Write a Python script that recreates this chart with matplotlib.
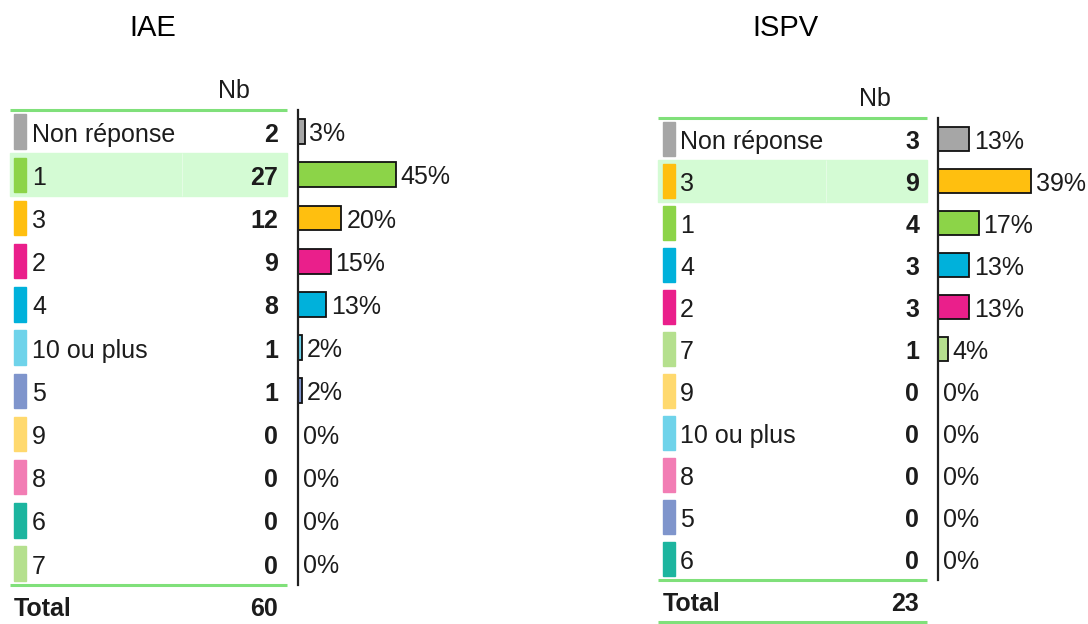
import matplotlib.pyplot as plt
from matplotlib.patches import Rectangle

# Category order, counts and percentages for each group
IAE_LABELS = ["Non réponse", "1", "3", "2", "4", "10 ou plus", "5", "9", "8", "6", "7"]
IAE_COUNTS = [2, 27, 12, 9, 8, 1, 1, 0, 0, 0, 0]
IAE_PCT = [3, 45, 20, 15, 13, 2, 2, 0, 0, 0, 0]
IAE_TOTAL = 60

ISPV_LABELS = ["Non réponse", "3", "1", "4", "2", "7", "9", "10 ou plus", "8", "5", "6"]
ISPV_COUNTS = [3, 9, 4, 3, 3, 1, 0, 0, 0, 0, 0]
ISPV_PCT = [13, 39, 17, 13, 13, 4, 0, 0, 0, 0, 0]
ISPV_TOTAL = 23

CATEGORY_COLORS = {
    "Non réponse": "#a6a6a6",
    "1": "#8cd448",
    "2": "#ea1f8b",
    "3": "#ffbf0f",
    "4": "#00b1db",
    "5": "#7f95cc",
    "6": "#1cb59f",
    "7": "#b5e08e",
    "8": "#f27db4",
    "9": "#ffd96e",
    "10 ou plus": "#6fd3ea",
}

W, H = 1088, 624
FONT = "Liberation Sans"
TEXT_COLOR = "#1c1c1c"
LINE_GREEN = "#80e07a"
HIGHLIGHT = "#d4fbd4"
FS = 18

plt.rcParams["font.family"] = [FONT, "DejaVu Sans"]


def px_axes(fig, x0, y0, x1, y1):
    """Add axes from pixel box (origin top-left)."""
    return fig.add_axes([x0 / W, 1 - y1 / H, (x1 - x0) / W, (y1 - y0) / H])


def draw_panel(fig, title, labels, counts, pct, total, lay):
    n = len(labels)
    top = lay["top"]
    bottom = top + n * lay["row_h"]

    # table part: x in figure pixels, y in rows
    tab = px_axes(fig, 0, top, W, bottom)
    tab.set_xlim(0, W)
    tab.set_ylim(n, 0)
    tab.axis("off")
    tab.patch.set_alpha(0)

    x0, x1 = lay["line_x"]
    hi = max(range(n), key=lambda i: counts[i])
    tab.add_patch(Rectangle((x0, hi), x1 - x0, 1, color=HIGHLIGHT, zorder=0))
    tab.vlines(lay["sep_x"], hi, hi + 1, color="#e8fde8", lw=0.6, zorder=0.5)

    for i, (lab, c) in enumerate(zip(labels, counts)):
        tab.add_patch(Rectangle((lay["swatch_x"], i + 0.1), 12, 0.8,
                                color=CATEGORY_COLORS[lab], zorder=1))
        tab.text(lay["label_x"], i + 0.57, lab, ha="left", va="center",
                 fontsize=FS, color=TEXT_COLOR)
        tab.text(lay["num_x"], i + 0.57, str(c), ha="right", va="center",
                 fontsize=FS, fontweight="bold", color=TEXT_COLOR)

    tab.hlines([0, n], x0, x1, color=LINE_GREEN, lw=2.2, clip_on=False)
    if lay["close_total"]:
        tab.hlines(n + 1, x0, x1, color=LINE_GREEN, lw=2.2, clip_on=False)

    tab.text(lay["nb_x"], -0.45, "Nb", ha="center", va="center",
             fontsize=FS, color=TEXT_COLOR, clip_on=False)
    tab.text(lay["swatch_x"], n + lay["total_off"], "Total", ha="left", va="center",
             fontsize=FS, fontweight="bold", color=TEXT_COLOR, clip_on=False)
    tab.text(lay["num_x"], n + lay["total_off"], str(total), ha="right", va="center",
             fontsize=FS, fontweight="bold", color=TEXT_COLOR, clip_on=False)

    fig.text(lay["title_x"] / W, 1 - 28 / H, title, ha="center", va="center",
             fontsize=21, color="black")

    # bar part: x in percent, y in rows
    ax_x = lay["axis_x"]
    span = 140
    bar_ax = px_axes(fig, ax_x, top, ax_x + span, bottom)
    bar_ax.set_xlim(0, span / lay["scale"])
    bar_ax.set_ylim(n, 0)
    bar_ax.patch.set_alpha(0)
    for side in ("top", "right", "bottom"):
        bar_ax.spines[side].set_visible(False)
    bar_ax.spines["left"].set_linewidth(1.6)
    bar_ax.spines["left"].set_color("#202020")
    bar_ax.set_xticks([])
    bar_ax.set_yticks([])

    ys = [i + 0.5 for i in range(n)]
    colors = [CATEGORY_COLORS[lab] for lab in labels]
    edges = ["#111111" if p > 0 else "none" for p in pct]
    bars = bar_ax.barh(ys, pct, height=0.57, color=colors, edgecolor=edges,
                       linewidth=1.3, zorder=2)
    for bar, p in zip(bars, pct):
        bar_ax.annotate(f"{p}%", (bar.get_width(), bar.get_y() + bar.get_height() / 2 + 0.06),
                        xytext=(3.5, 0), textcoords="offset points",
                        ha="left", va="center", fontsize=FS, color=TEXT_COLOR,
                        annotation_clip=False)


def main() -> None:
    fig = plt.figure(figsize=(W / 100, H / 100), dpi=100)
    fig.patch.set_facecolor("white")

    iae_layout = dict(top=110, row_h=43.2, swatch_x=14, label_x=32, num_x=278,
                      line_x=(10, 287), sep_x=182, axis_x=298, scale=2.17,
                      title_x=153, nb_x=234, total_off=0.55, close_total=False)
    ispv_layout = dict(top=118, row_h=42.0, swatch_x=662.5, label_x=680, num_x=919,
                       line_x=(658, 927), sep_x=826, axis_x=938, scale=2.39,
                       title_x=785, nb_x=875, total_off=0.58, close_total=True)

    draw_panel(fig, "IAE", IAE_LABELS, IAE_COUNTS, IAE_PCT, IAE_TOTAL, iae_layout)
    draw_panel(fig, "ISPV", ISPV_LABELS, ISPV_COUNTS, ISPV_PCT, ISPV_TOTAL, ispv_layout)

    fig.savefig("out.png", dpi=100, facecolor="white")
    plt.close(fig)


if __name__ == "__main__":
    main()
